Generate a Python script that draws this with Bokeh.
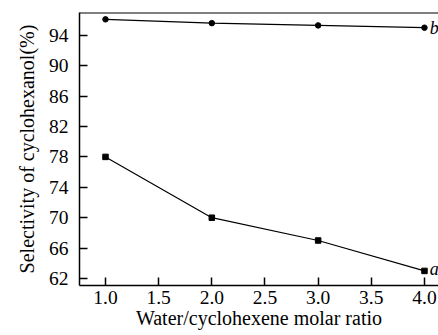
from bokeh.plotting import figure
from bokeh.models import FixedTicker, Span
from bokeh.embed import file_html
from bokeh.resources import INLINE
from bokeh.core.properties import value

ratio = [1.0, 2.0, 3.0, 4.0]
sel_b = [96.1, 95.6, 95.3, 95.0]
sel_a = [78.0, 70.0, 67.0, 63.0]
x_ticks = [1.0, 1.5, 2.0, 2.5, 3.0, 3.5, 4.0]
y_ticks = [62, 66, 70, 74, 78, 82, 86, 90, 94]
curve_labels = ["b", "a"]

FONT = "Liberation Serif"

p = figure(width=438, height=335, x_range=(0.7555, 4.132), y_range=(61.08, 97.0),
           output_backend="svg", toolbar_location=None,
           min_border_left=79, min_border_right=0, min_border_top=12, min_border_bottom=50)
p.outline_line_color = None
p.grid.grid_line_color = None
p.background_fill_color = "white"
p.border_fill_color = "white"

for ax in (p.xaxis, p.yaxis):
    ax.axis_line_color = "black"
    ax.axis_line_width = 1.5
    ax.major_tick_line_color = "black"
    ax.major_tick_line_width = 1.5
    ax.major_tick_in = 8
    ax.major_tick_out = 0
    ax.minor_tick_line_color = None
    ax.major_label_text_font = FONT
    ax.major_label_text_font_size = "19.5px"
    ax.major_label_text_color = "black"
    ax.axis_label_text_font = FONT
    ax.axis_label_text_font_size = "20px"
    ax.axis_label_text_font_style = "normal"
    ax.axis_label_text_color = "black"

p.xaxis.ticker = FixedTicker(ticks=x_ticks)
p.yaxis.ticker = FixedTicker(ticks=y_ticks)
p.xaxis.major_label_overrides = {t: f"{t:.1f}" for t in x_ticks}
p.xaxis.axis_label = "Water/cyclohexene molar ratio"
p.yaxis.axis_label = "Selectivity of cyclohexanol(%)"
p.xaxis.major_label_standoff = 5
p.xaxis.axis_label_standoff = 0
p.yaxis.major_label_standoff = 11
p.yaxis.axis_label_standoff = 8

p.add_layout(Span(location=97.0, dimension="width", line_color="black", line_width=2))

p.line(ratio, sel_b, line_color="black", line_width=1.2)
p.scatter(ratio, sel_b, marker="circle", size=5.5, fill_color="black", line_color="black")
p.line(ratio, sel_a, line_color="black", line_width=1.2)
p.scatter(ratio, sel_a, marker="square", size=5.5, fill_color="black", line_color="black")

p.text(x=[4.05, 4.05], y=[sel_b[-1], sel_a[-1] + 0.3], text=curve_labels, text_font=value(FONT),
       text_font_style="italic", text_font_size="18px", text_baseline="middle", text_color="black")

open("out.html", "w").write(file_html(p, INLINE))
